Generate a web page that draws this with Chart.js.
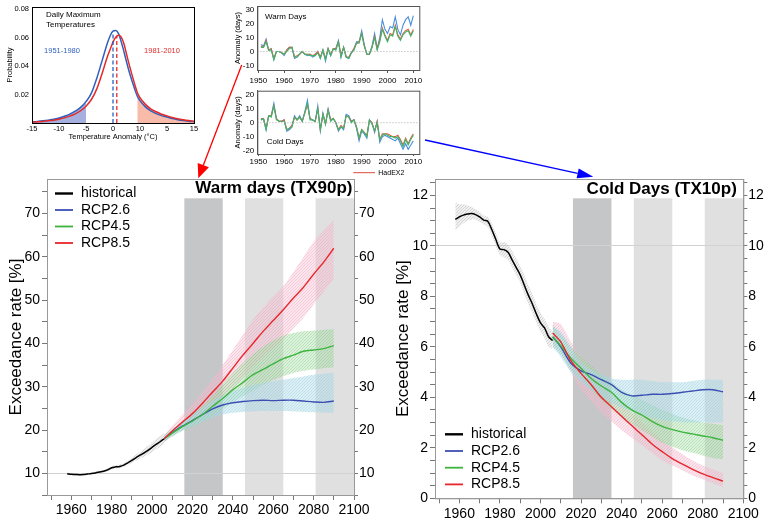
<!DOCTYPE html>
<html><head><meta charset="utf-8">
<script src="https://cdn.jsdelivr.net/npm/chart.js@4.4.0/dist/chart.umd.min.js"></script>
<style>
html,body{margin:0;padding:0;background:#fff;width:768px;height:520px;overflow:hidden;position:relative;}
canvas{position:absolute;}
</style></head><body>
<canvas id="dist" width="215" height="145" style="left:0;top:0"></canvas>
<canvas id="warmIn" width="200" height="88" style="left:225px;top:0"></canvas>
<canvas id="coldIn" width="200" height="90" style="left:225px;top:88px"></canvas>
<canvas id="warmMain" width="384" height="355" style="left:0;top:165px"></canvas>
<canvas id="coldMain" width="384" height="355" style="left:384px;top:165px"></canvas>
<canvas id="arrows" width="768" height="520" style="left:0;top:0;pointer-events:none"></canvas>
<script>
// ---------------- DATA ----------------
// Distribution inset
const distX    = [-15,-14,-13,-12,-11,-10,-9,-8,-7,-6,-5,-4,-3,-2,-1,-0.5,0,0.5,1,1.5,2,2.5,3,4,4.5,5,6,7,8,9,10,11,12,13,14,15];
const distBlue = [0.0008,0.0011,0.0015,0.0020,0.0027,0.0035,0.0047,0.0062,0.0083,0.0110,0.0150,0.0210,0.0315,0.0440,0.0565,0.0615,0.0645,0.0650,0.0630,0.0575,0.0505,0.0430,0.0360,0.0240,0.0188,0.0157,0.0113,0.0085,0.0066,0.0052,0.0042,0.0031,0.0023,0.0017,0.0013,0.0010];
const distRed  = [0.0006,0.0008,0.0011,0.0015,0.0020,0.0027,0.0036,0.0048,0.0064,0.0086,0.0118,0.0165,0.0240,0.0350,0.0470,0.0520,0.0568,0.0603,0.0617,0.0605,0.0560,0.0485,0.0410,0.0275,0.0215,0.0178,0.0131,0.0100,0.0079,0.0062,0.0050,0.0039,0.0030,0.0023,0.0017,0.0012];
const distMeans = [0, 0.7];          // blue (1951-1980), red (1981-2010)
const distMeanTops = [0.0640, 0.0612];
const distTicks = [-15,-10,-5,0,5,10,15];
const distTickLabels = ['-15','-10','-5','0','10','5','15'];
const distYTicks = [0.02,0.04,0.06,0.08];

// Small time-series insets (1951-2010)
const insetYears = [1951,1952,1953,1954,1955,1956,1957,1958,1959,1960,1961,1962,1963,1964,1965,1966,1967,1968,1969,1970,1971,1972,1973,1974,1975,1976,1977,1978,1979,1980,1981,1982,1983,1984,1985,1986,1987,1988,1989,1990,1991,1992,1993,1994,1995,1996,1997,1998,1999,2000,2001,2002,2003,2004,2005,2006,2007,2008,2009,2010];
const warmBlue   = [5,4,9,1,2,-6,0,0,-1,-3, 1,3,3,-5,-4,-2,0,-2,-3,-2, -4,-3,0,-5,1,-7,2,-3,2,2, 8,-4,3,-4,-5,-1,2,7,7,15, 5,-2,-2,4,13,2,10,23,16,13, 18,17,25,16,12,19,23,25,19,26];
const warmOrange = [4,3,8,1,2,-5,0,0,-1,-2, 1,3,3,-4,-3,-2,0,-2,-2,-2, -3,-2,0,-4,1,-5,2,-2,2,2, 7,-3,3,-4,-4,-1,2,6,7,13, 4,-2,-2,3,11,2,8,17,12,8, 13,12,19,12,9,13,15,16,12,16];
const warmGreen  = [3,3,7,1,1,-6,0,0,-1,-2, 0,2,3,-4,-4,-2,0,-2,-2,-3, -3,-3,-1,-5,1,-6,2,-3,2,1, 7,-4,3,-4,-5,-1,1,6,6,13, 4,-2,-2,3,10,1,7,16,11,7, 12,11,18,11,8,12,14,15,11,15];
const coldBlue   = [2,3,-5,5,5,14,3,1,1,2, -6,-5,-3,5,2,5,1,8,16,3, 2,1,12,-6,7,-1,10,2,3,0, -6,-3,-5,6,5,1,2,-4,-13,-6, -8,-11,2,0,-7,1,-14,-10,-9,-10, -11,-12,-13,-11,-15,-19,-15,-19,-16,-13];
const coldOrange = [3,3,-4,5,5,12,3,1,1,2, -5,-4,-2,4,2,4,1,7,13,3, 2,1,10,-5,6,-1,9,2,3,0, -5,-2,-4,5,4,1,2,-3,-11,-5, -7,-9,2,0,-6,1,-12,-8,-8,-8, -9,-10,-10,-9,-12,-16,-11,-15,-11,-8];
const coldGreen  = [2,3,-5,5,4,12,2,1,1,1, -5,-4,-3,4,2,4,1,7,14,2, 2,1,10,-5,6,-1,9,1,3,0, -5,-3,-4,5,4,0,2,-3,-11,-5, -7,-10,2,-1,-6,0,-12,-9,-8,-9, -10,-10,-11,-10,-13,-17,-12,-16,-12,-9];
const insetXTicks = [1950,1960,1970,1980,1990,2000,2010];
const warmInYTicks = [-10,0,10,20,30];
const coldInYTicks = [-20,-10,0,10,20];

// Main panels
const histYears = [1958,1960,1962,1964,1966,1968,1970,1972,1974,1976,1978,1980,1982,1984,1986,1988,1990,1992,1994,1996,1998,2000,2002,2004,2006];
const rcpYears  = [2006,2010,2015,2020,2025,2030,2035,2040,2045,2050,2055,2060,2065,2070,2075,2080,2085,2090];
const periods   = [[2016,2035],[2046,2065],[2081,2100]];
const mainXTicks  = [1950,1960,1970,1980,1990,2000,2010,2020,2030,2040,2050,2060,2070,2080,2090,2100];
const mainXLabels = [1960,1980,2000,2020,2040,2060,2080,2100];

// Warm days (TX90p)
const warmHist   = [9.9,9.8,9.75,9.7,9.75,9.85,9.95,10.1,10.3,10.5,10.8,11.3,11.5,11.6,11.9,12.4,13.0,13.6,14.2,14.7,15.3,16.0,16.7,17.3,18.0];
const warmHistLo = [9.6,9.55,9.5,9.5,9.55,9.65,9.75,9.9,10.05,10.25,10.5,10.9,11.1,11.2,11.5,11.9,12.4,12.9,13.4,13.8,14.3,14.9,15.5,16.1,16.7];
const warmHistHi = [10.2,10.1,10.0,9.95,10.0,10.1,10.2,10.35,10.6,10.8,11.15,11.7,11.9,12.05,12.4,12.9,13.6,14.3,15.0,15.6,16.3,17.2,18.0,18.6,19.3];
const warm26   = [18.0,19.4,20.9,22.2,23.6,24.9,25.8,26.3,26.6,26.8,26.9,26.8,26.9,26.9,26.7,26.5,26.4,26.7];
const warm26Lo = [17.3,18.6,19.9,20.9,21.9,22.9,23.6,24.0,24.2,24.3,24.4,24.4,24.4,24.3,24.2,24.1,24.0,24.0];
const warm26Hi = [18.8,20.3,22.0,23.6,25.2,26.8,28.0,29.0,29.8,30.4,30.9,31.3,31.6,32.0,32.4,32.8,33.0,33.3];
const warm45   = [18.0,19.3,20.8,22.1,23.6,25.5,27.3,29.3,31.0,32.8,34.0,35.3,36.5,37.3,38.2,38.5,38.8,39.5];
const warm45Lo = [17.3,18.5,19.8,20.8,22.0,23.2,24.8,26.4,27.8,29.0,30.5,31.5,32.5,33.2,33.7,34.0,34.3,34.5];
const warm45Hi = [18.8,20.2,21.9,23.6,25.5,27.8,30.6,33.2,35.5,37.5,39.3,40.7,41.8,42.4,42.8,43.0,43.2,43.3];
const warm85   = [18.0,19.8,21.8,23.8,26.2,28.8,31.3,34.3,37.3,40.0,42.8,45.3,47.8,50.5,53.0,56.0,58.8,62.0];
const warm85Lo = [17.2,18.7,20.2,21.8,23.5,25.3,27.3,29.6,32.0,34.5,36.8,38.9,41.0,43.5,46.0,49.0,52.0,54.7];
const warm85Hi = [18.9,21.0,23.5,26.0,28.8,31.8,35.0,38.5,42.0,45.5,48.3,50.8,53.2,56.5,60.0,63.5,66.0,68.5];
const warmYMajor = [10,20,30,40,50,60,70];

// Cold days (TX10p)
const coldHist   = [11.05,11.15,11.22,11.26,11.28,11.24,11.15,11.02,10.98,10.65,10.25,9.88,9.85,9.75,9.45,9.15,8.85,8.45,8.05,7.7,7.3,6.95,6.75,6.4,6.25];
const coldHistLo = [10.6,10.75,10.9,11.0,11.05,11.05,10.95,10.85,10.75,10.4,10.0,9.65,9.55,9.45,9.15,8.85,8.55,8.1,7.7,7.35,6.95,6.6,6.35,6.0,5.9];
const coldHistHi = [11.7,11.65,11.65,11.6,11.55,11.45,11.35,11.2,11.15,10.9,10.5,10.15,10.15,10.05,9.8,9.5,9.2,8.85,8.45,8.1,7.7,7.35,7.1,6.8,6.6];
const cold26   = [6.4,6.0,5.35,5.05,4.9,4.7,4.5,4.2,4.06,4.08,4.12,4.12,4.15,4.2,4.25,4.3,4.3,4.22];
const cold26Lo = [6.0,5.6,5.0,4.6,4.3,4.0,3.8,3.6,3.45,3.3,3.2,3.1,3.05,3.0,3.0,3.0,3.0,3.0];
const cold26Hi = [6.8,6.6,6.0,5.4,5.1,4.9,4.75,4.7,4.7,4.7,4.65,4.6,4.6,4.6,4.65,4.7,4.7,4.7];
const cold45   = [6.4,6.05,5.55,5.15,4.75,4.45,4.2,3.8,3.5,3.3,3.05,2.85,2.72,2.62,2.55,2.47,2.4,2.3];
const cold45Lo = [6.0,5.7,5.1,4.7,4.3,3.9,3.55,3.2,2.95,2.7,2.45,2.2,2.05,1.9,1.8,1.7,1.6,1.55];
const cold45Hi = [6.9,6.5,6.0,5.6,5.25,4.9,4.6,4.3,4.1,3.9,3.7,3.5,3.35,3.2,3.1,3.0,2.95,2.9];
const cold85   = [6.55,6.2,5.45,4.95,4.5,4.0,3.63,3.25,2.88,2.52,2.15,1.85,1.57,1.35,1.15,0.97,0.82,0.68];
const cold85Lo = [6.1,5.8,5.0,4.3,3.85,3.4,3.05,2.7,2.4,2.1,1.8,1.5,1.3,1.1,0.9,0.75,0.6,0.45];
const cold85Hi = [7.0,6.9,6.2,5.6,5.1,4.6,4.2,3.8,3.4,3.0,2.65,2.3,2.0,1.75,1.5,1.3,1.15,1.0];
const coldYMajor = [0,2,4,6,8,10,12];

// ---------------- SETUP ----------------
Chart.defaults.font.family = "'Liberation Sans', Arial, Helvetica, sans-serif";
Chart.defaults.color = '#000';
Chart.defaults.animation = false;
Chart.defaults.devicePixelRatio = 1;
Chart.defaults.plugins.legend.display = false;
Chart.defaults.plugins.tooltip.enabled = false;
const FONT = "'Liberation Sans', Arial, Helvetica, sans-serif";

function pts(xs, ys){ return xs.map((x,i)=>({x:x, y:ys[i]})); }
function hatch(ctx, fill, line){
  const c = document.createElement('canvas'); c.width = 3; c.height = 3;
  const g = c.getContext('2d');
  g.fillStyle = fill; g.fillRect(0,0,3,3);
  g.fillStyle = line;
  g.fillRect(0,2,1,1); g.fillRect(1,1,1,1); g.fillRect(2,0,1,1);
  return ctx.createPattern(c,'repeat');
}
function noPad(s){ s.paddingLeft = 0; s.paddingRight = 0; s.paddingTop = 0; s.paddingBottom = 0; }

// ---------------- MAIN PANELS ----------------
const mainDeco = {
  id:'mainDeco',
  beforeDraw(chart, args, o){
    const {ctx, chartArea:a, scales:{x}} = chart;
    ctx.save();
    periods.forEach((p,i)=>{
      const x0 = x.getPixelForValue(p[0]), x1 = x.getPixelForValue(p[1]);
      ctx.fillStyle = i===0 ? '#c5c6c8' : '#e0e0e0';
      ctx.fillRect(x0, a.top + o.bandTop, x1 - x0, a.bottom - a.top - o.bandTop);
    });
    ctx.restore();
  },
  afterDraw(chart, args, o){
    const {ctx, chartArea:a} = chart;
    ctx.save();
    ctx.strokeStyle = '#999'; ctx.lineWidth = 1;
    ctx.strokeRect(a.left + 0.5, a.top + 0.5, a.right - a.left, a.bottom - a.top);
    ctx.font = 'bold 17px ' + FONT; ctx.fillStyle = '#000';
    ctx.textAlign = 'right'; ctx.textBaseline = 'alphabetic';
    ctx.fillText(o.title, a.right + o.titleDx, a.top + o.titleDy);
    const items = chart.data.datasets.filter(d => d.label[0] !== '_');
    ctx.font = '14px ' + FONT; ctx.textAlign = 'left'; ctx.textBaseline = 'middle';
    items.forEach((d,i)=>{
      const y = (o.legendFromBottom ? a.bottom - o.legendY : a.top + o.legendY) + i*o.legendStep;
      ctx.strokeStyle = d.borderColor; ctx.lineWidth = i===0 ? 2.4 : 1.8;
      ctx.beginPath(); ctx.moveTo(a.left + o.legX0, y); ctx.lineTo(a.left + o.legX0 + 18, y); ctx.stroke();
      ctx.fillText(d.label, a.left + o.legX0 + 26, y);
    });
    ctx.restore();
  }
};

function mainChart(id, d){
  const el = document.getElementById(id), ctx = el.getContext('2d');
  const P = {
    hist: hatch(ctx,'rgba(215,215,215,0.35)','rgba(160,160,160,0.35)'),
    c26: hatch(ctx,'rgba(175,220,233,0.45)','rgba(125,192,214,0.3)'),
    c45: hatch(ctx,'rgba(170,222,170,0.4)','rgba(100,185,100,0.3)'),
    c85: hatch(ctx,'rgba(249,195,212,0.42)','rgba(236,140,172,0.3)')
  };
  const band = (xs, lo, hi, pat) => [
    {label:'_lo', data:pts(xs,lo), borderWidth:0, pointRadius:0, fill:false, order:20, tension:0.3},
    {label:'_hi', data:pts(xs,hi), borderWidth:0, pointRadius:0, fill:'-1', backgroundColor:pat, order:20, tension:0.3}
  ];
  const line = (label, xs, ys, color, w, order) => ({label, data:pts(xs,ys), borderColor:color, backgroundColor:color,
    borderWidth:w, pointRadius:0, fill:false, tension:0.3, order});
  const yTicks = []; for (let v = d.yMin; v <= d.yMax + 1e-9; v += d.yStep) yTicks.push(Math.round(v*100)/100);
  const yAxis = (pos) => ({
    type:'linear', position:pos, min:d.yMin, max:d.yMax,
    afterBuildTicks: s => { s.ticks = yTicks.map(v => ({value:v})); },
    afterFit: s => { s.width = pos === 'left' ? d.leftW : d.rightW; noPad(s); },
    ticks:{ autoSkip:false, font:{size:14}, padding: pos === 'left' ? 2 : 1,
      callback: v => d.yMajor.includes(v) ? String(v) : '' },
    grid:{ drawOnChartArea: pos === 'left', tickColor:'#777', tickLength: pos === 'left' ? 5 : 4,
      color: c => (c.tick && c.tick.value === d.refLine) ? '#d2d2d2' : 'rgba(0,0,0,0)' },
    border:{ color:'#999' },
    title: pos === 'left' ? { display:true, text:'Exceedance rate [%]', font:{size:17}, padding:{top:d.titlePad, bottom:0} } : {display:false}
  });
  return new Chart(el, {
    type:'line',
    data:{ datasets:[
      ...band(histYears, d.histLo, d.histHi, P.hist),
      ...band(rcpYears, d.lo26, d.hi26, P.c26),
      ...band(rcpYears, d.lo45, d.hi45, P.c45),
      ...band(rcpYears, d.lo85, d.hi85, P.c85),
      line('historical', histYears, d.hist, '#000', 1.5, 1),
      line('RCP2.6', rcpYears, d.r26, '#3b4fb3', 1.4, 4),
      line('RCP4.5', rcpYears, d.r45, '#3cb43f', 1.4, 3),
      line('RCP8.5', rcpYears, d.r85, '#e8262b', 1.4, 2)
    ]},
    options:{
      responsive:false, maintainAspectRatio:false,
      layout:{ padding:{ top:14, left:0, right:0, bottom:0 } },
      scales:{
        x:{ type:'linear', min:1948, max:2100,
          afterBuildTicks: s => { s.ticks = mainXTicks.map(v => ({value:v})); },
          afterFit: s => { s.height = d.xH; noPad(s); },
          ticks:{ autoSkip:false, maxRotation:0, font:{size:14}, padding:2,
            callback: v => mainXLabels.includes(v) ? String(v) : '' },
          grid:{ drawOnChartArea:false, tickColor:'#777', tickLength:5 },
          border:{ color:'#999' } },
        y: yAxis('left'),
        y1: yAxis('right')
      },
      plugins:{ mainDeco: d.deco }
    },
    plugins:[mainDeco]
  });
}

mainChart('warmMain', {
  hist:warmHist, histLo:warmHistLo, histHi:warmHistHi,
  r26:warm26, lo26:warm26Lo, hi26:warm26Hi, r45:warm45, lo45:warm45Lo, hi45:warm45Hi, r85:warm85, lo85:warm85Lo, hi85:warm85Hi,
  yMin:5, yMax:78, yStep:5, yMajor:warmYMajor, refLine:10, leftW:47, rightW:30, xH:25, titlePad:6.5,
  deco:{ bandTop:19.3, title:'Warm days (TX90p)', titleDx:-1.5, titleDy:13.5, legendY:14.5, legendStep:16.5, legX0:8, legendFromBottom:false }
});
mainChart('coldMain', {
  hist:coldHist, histLo:coldHistLo, histHi:coldHistHi,
  r26:cold26, lo26:cold26Lo, hi26:cold26Hi, r45:cold45, lo45:cold45Lo, hi45:cold45Hi, r85:cold85, lo85:cold85Lo, hi85:cold85Hi,
  yMin:0, yMax:12.65, yStep:0.5, yMajor:coldYMajor, refLine:10, leftW:51, rightW:24.7, xH:21.7, titlePad:9,
  deco:{ bandTop:19.3, title:'Cold Days (TX10p)', titleDx:-6.5, titleDy:14.5, legendY:64, legendStep:16.7, legX0:10, legendFromBottom:true }
});

// ---------------- DISTRIBUTION INSET ----------------
const distDeco = {
  id:'distDeco',
  afterDraw(chart){
    const {ctx, chartArea:a} = chart;
    ctx.save();
    ctx.strokeStyle = '#000'; ctx.lineWidth = 1;
    ctx.strokeRect(a.left + 0.5, a.top + 0.5, a.right - a.left, a.bottom - a.top);
    ctx.font = '8px ' + FONT; ctx.fillStyle = '#000'; ctx.textAlign = 'left'; ctx.textBaseline = 'middle';
    ctx.fillText('Daily Maximum', 46, 15);
    ctx.fillText('Temperatures', 46, 25);
    ctx.font = '7.5px ' + FONT; ctx.textAlign = 'center';
    ctx.fillStyle = '#2f5fbf'; ctx.fillText('1951-1980', 62, 51);
    ctx.fillStyle = '#e32b2b'; ctx.fillText('1981-2010', 162, 51);
    ctx.restore();
  }
};
new Chart(document.getElementById('dist'), {
  type:'line',
  data:{ datasets:[
    {label:'_bs', data:pts(distX,distBlue).filter(p => p.x <= -5), fill:'origin', backgroundColor:'rgba(118,134,204,0.65)', borderWidth:0, pointRadius:0, order:10, cubicInterpolationMode:'monotone'},
    {label:'_rs', data:pts(distX,distRed).filter(p => p.x >= 4.5), fill:'origin', backgroundColor:'rgba(246,158,132,0.7)', borderWidth:0, pointRadius:0, order:10, cubicInterpolationMode:'monotone'},
    {label:'1951-1980', data:pts(distX,distBlue), borderColor:'#2f5fbf', borderWidth:1.5, pointRadius:0, fill:false, order:3, cubicInterpolationMode:'monotone'},
    {label:'1981-2010', data:pts(distX,distRed), borderColor:'#e32b2b', borderWidth:1.5, pointRadius:0, fill:false, order:2, cubicInterpolationMode:'monotone'},
    {label:'_bm', data:[{x:distMeans[0],y:0},{x:distMeans[0],y:distMeanTops[0]}], borderColor:'#2f5fbf', borderDash:[4,2.5], borderWidth:1.3, pointRadius:0, fill:false, order:1},
    {label:'_rm', data:[{x:distMeans[1],y:0},{x:distMeans[1],y:distMeanTops[1]}], borderColor:'#e32b2b', borderDash:[4,2.5], borderWidth:1.3, pointRadius:0, fill:false, order:1}
  ]},
  options:{
    responsive:false, maintainAspectRatio:false,
    layout:{ padding:{ top:7, right:21, left:0, bottom:0 } },
    scales:{
      x:{ type:'linear', min:-15, max:15,
        afterBuildTicks: s => { s.ticks = distTicks.map(v => ({value:v})); },
        afterFit: s => { s.height = 22; noPad(s); },
        ticks:{ autoSkip:false, maxRotation:0, font:{size:7.5}, padding:1, callback:(v,i) => distTickLabels[i] },
        grid:{ display:true, drawOnChartArea:false, drawTicks:false },
        border:{ color:'#000' },
        title:{ display:true, text:'Temperature Anomaly (°C)', font:{size:7.5}, padding:{top:0,bottom:4} } },
      y:{ type:'linear', min:0, max:0.0815,
        afterBuildTicks: s => { s.ticks = distYTicks.map(v => ({value:v})); },
        afterFit: s => { s.width = 32; noPad(s); },
        ticks:{ autoSkip:false, font:{size:7.5}, padding:3, callback: v => v.toFixed(2) },
        grid:{ display:true, drawOnChartArea:false, drawTicks:false },
        border:{ color:'#000' },
        title:{ display:true, text:'Probability', font:{size:7.5}, padding:{top:5,bottom:0} } }
    }
  },
  plugins:[distDeco]
});

// ---------------- TIME-SERIES INSETS ----------------
const insetDeco = {
  id:'insetDeco',
  afterDraw(chart, args, o){
    const {ctx, chartArea:a, scales:{y}} = chart;
    ctx.save();
    const y0 = y.getPixelForValue(0);
    ctx.strokeStyle = '#aaa'; ctx.lineWidth = 0.8; ctx.setLineDash([1.2,1.8]);
    ctx.beginPath(); ctx.moveTo(a.left, y0); ctx.lineTo(a.right, y0); ctx.stroke();
    ctx.setLineDash([]);
    ctx.strokeStyle = '#555'; ctx.lineWidth = 1;
    ctx.strokeRect(a.left + 0.5, a.top + 0.5, a.right - a.left, a.bottom - a.top);
    ctx.font = '8px ' + FONT; ctx.fillStyle = '#000'; ctx.textAlign = 'left'; ctx.textBaseline = 'middle';
    ctx.fillText(o.label, o.lx, o.ly);
    if (o.legend) {
      ctx.strokeStyle = '#dc4a3c'; ctx.lineWidth = 1;
      ctx.beginPath(); ctx.moveTo(128.3, 84.7); ctx.lineTo(150, 84.7); ctx.stroke();
      ctx.font = '7px ' + FONT; ctx.fillText(o.legend, 153.3, 84.7);
    }
    ctx.restore();
  }
};
function insetChart(id, d){
  const ln = (label, ys, color, order) => ({label, data:pts(insetYears, ys), borderColor:color, borderWidth:1.1, pointRadius:0, fill:false, tension:0, order});
  return new Chart(document.getElementById(id), {
    type:'line',
    data:{ datasets:[ ln('_green', d.g, '#3fb56e', 1), ln('HadEX2', d.o, '#dc5f3c', 2), ln('_blue', d.b, '#4a8fdc', 3) ]},
    options:{
      responsive:false, maintainAspectRatio:false,
      layout:{ padding:{ top:d.top, right:5.7, left:0, bottom:d.bottom } },
      scales:{
        x:{ type:'linear', min:1949.6, max:2012.3,
          afterBuildTicks: s => { s.ticks = insetXTicks.map(v => ({value:v})); },
          afterFit: s => { s.height = d.xH; noPad(s); },
          ticks:{ autoSkip:false, maxRotation:0, font:{size:8}, padding:d.xPad, callback: v => String(v) },
          grid:{ drawOnChartArea:false, tickLength:d.tickL, tickColor:'#555' },
          border:{ color:'#555' } },
        y:{ type:'linear', min:d.yMin, max:d.yMax,
          afterBuildTicks: s => { s.ticks = d.yTicks.map(v => ({value:v})); },
          afterFit: s => { s.width = 32.3; noPad(s); },
          ticks:{ autoSkip:false, font:{size:8}, padding:3, callback: v => String(v) },
          grid:{ drawOnChartArea:false, drawTicks:false },
          border:{ color:'#555' },
          title:{ display:true, text:'Anomaly (days)', font:{size:7.5}, padding:{top:8.5,bottom:0} } }
      },
      plugins:{ insetDeco: d.deco }
    },
    plugins:[insetDeco]
  });
}
insetChart('warmIn', { b:warmBlue, o:warmOrange, g:warmGreen, yMin:-13.4, yMax:32.9, yTicks:warmInYTicks,
  top:6, bottom:0, xH:18, xPad:3, tickL:3, deco:{ label:'Warm Days', lx:40, ly:16.7 } });
insetChart('coldIn', { b:coldBlue, o:coldOrange, g:coldGreen, yMin:-22.4, yMax:22.9, yTicks:coldInYTicks,
  top:2.7, bottom:10, xH:14, xPad:1, tickL:2, deco:{ label:'Cold Days', lx:41.7, ly:53.3, legend:'HadEX2' } });

// ---------------- ARROWS ----------------
(function(){
  const ctx = document.getElementById('arrows').getContext('2d');
  function arrow(x0,y0,x1,y1,color,headLen,headW,lw){
    const ang = Math.atan2(y1-y0, x1-x0);
    const bx = x1 - headLen*Math.cos(ang), by = y1 - headLen*Math.sin(ang);
    ctx.strokeStyle = color; ctx.lineWidth = lw;
    ctx.beginPath(); ctx.moveTo(x0,y0); ctx.lineTo(bx,by); ctx.stroke();
    ctx.fillStyle = color; ctx.beginPath(); ctx.moveTo(x1,y1);
    ctx.lineTo(bx + headW/2*Math.sin(ang), by - headW/2*Math.cos(ang));
    ctx.lineTo(bx - headW/2*Math.sin(ang), by + headW/2*Math.cos(ang));
    ctx.closePath(); ctx.fill();
  }
  arrow(241.7, 65, 198.3, 178.3, '#ff0000', 14, 12, 1.3);
  arrow(425, 140, 593.3, 176.7, '#0000ff', 16, 10, 1.3);
})();
</script>
</body></html>
